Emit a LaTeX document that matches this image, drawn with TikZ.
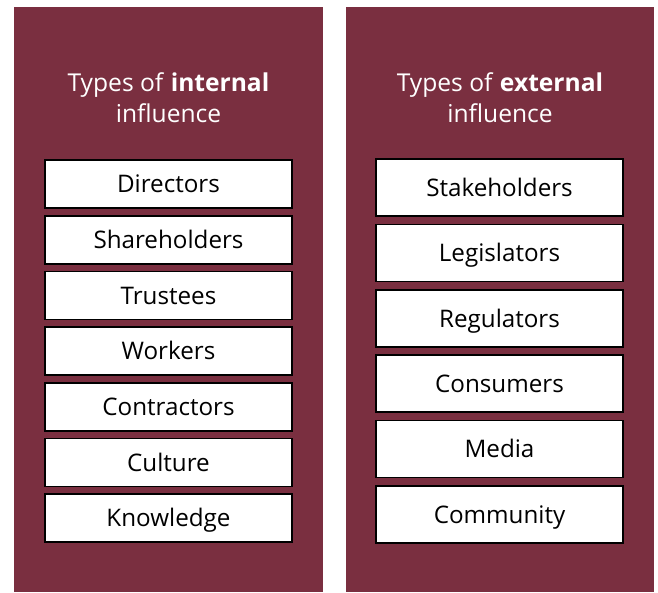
\documentclass[tikz,border=0pt]{standalone}
\usepackage{fontspec}
\setmainfont{Open Sans}
\definecolor{panelred}{HTML}{7A2F40}
\begin{document}
\begin{tikzpicture}[x=1pt,y=-1pt,
  panel/.style={fill=panelred,draw=none},
  title/.style={text=white,align=center,font=\fontsize{24.6}{31}\selectfont,inner sep=0pt},
  itembox/.style={draw=black,line width=1.6pt,fill=white,minimum width=247pt,inner sep=0pt,
    text height=22.4pt,text depth=5pt,font=\fontsize{24.2}{29}\selectfont,text=black},
  inbox/.style={itembox,minimum height=48pt},
  exbox/.style={itembox,minimum height=57pt}]
\useasboundingbox (0,0) rectangle (658,592);
\fill[panel] (14,7) rectangle (323,592);
\fill[panel] (346,7) rectangle (654,592);
\node[title] (tin) at (168.5,97.5) {Types of \textbf{internal}\\influence};
\node[title] (tex) at (500,97.5) {Types of \textbf{external}\\influence};
\foreach \t/\n [count=\i from 0] in {Directors/dir,Shareholders/sha,Trustees/tru,Workers/wor,Contractors/con,Culture/cul,Knowledge/kno}
  \node[inbox] (\n) at (168.5,{184+55.7*\i}) {\t};
\foreach \t/\n [count=\i from 0] in {Stakeholders/sta,Legislators/leg,Regulators/reg,Consumers/cns,Media/med,Community/com}
  \node[exbox] (\n) at (499.5,{187.5+65.4*\i}) {\t};
\end{tikzpicture}
\end{document}
